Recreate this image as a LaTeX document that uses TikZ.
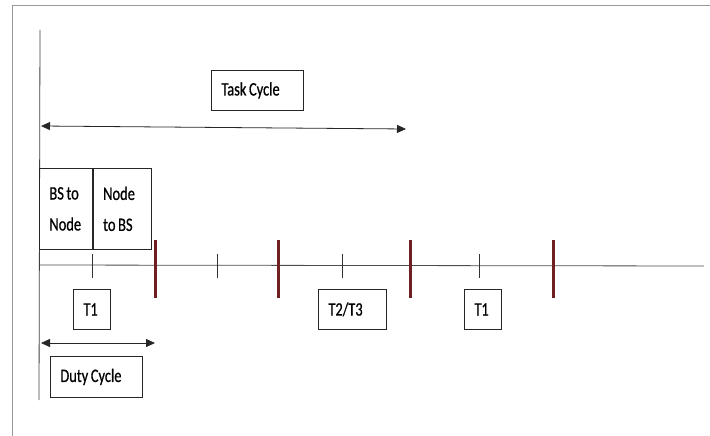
\documentclass[tikz,border=0pt]{standalone}
\usepackage{fontspec}
\setmainfont{Carlito}[FakeStretch=0.76, FakeBold=0.6]
\usetikzlibrary{arrows.meta}

\newcommand\gap{\kern2.6pt\relax}
\tikzset{
    box/.style={draw=black!85, thick, inner xsep=10pt, inner ysep=0pt, anchor=north west, align=left,
        font=\fontsize{19}{31}\selectfont},
    span/.style={black!85, thick, {Triangle[length=9pt,width=8pt]}-{Triangle[length=9pt,width=8pt]}},
    slot/.style={line width=3pt, draw={rgb,255:red,112;green,32;blue,32}}
}

\begin{document}
\begin{tikzpicture}[x=1pt, y=-1pt]
    \useasboundingbox (0,0) rectangle (710,436);
    \draw[black!40] (12,436) -- (12,5) -- (710,5);
    % axes
    \coordinate (O) at (40,265); \coordinate (top) at (40,30); \coordinate (bot) at (39,400);
    \coordinate (end) at (704,266);
    \draw[black!75, thick] (top) -- (bot);
    \draw[black!70, thick] (O) -- (end);
    % cycles
    \node[box, minimum height=40pt, text width=72pt] (task) at (211,70) {Task\gap Cycle};
    \coordinate (taskL) at (41,126); \coordinate (taskR) at (406,129);
    \draw[span] (taskL) -- (taskR);
    \node[box, minimum height=81pt, text width=33pt] (bs2node) at (39,168) {BS\gap to\\Node};
    \node[box, minimum height=81pt, text width=38pt] (node2bs) at (bs2node.north east) {Node\\to\gap BS};
    % slots
    \foreach \x in {92,217,342,479} {\draw[black!80] (\x,254) coordinate (tick\x) -- (\x,278);}
    \foreach \x in {155,278,410,553} {\draw[slot] (\x,240) coordinate (cut\x) -- (\x,298);}
    \node[box, minimum height=40pt, text width=17pt] (t1a) at (73,289) {T1};
    \node[box, minimum height=40pt, text width=48pt] (t23) at (318,289) {T2/T3};
    \node[box, minimum height=40pt, text width=17pt] (t1b) at (464,289) {T1};
    \coordinate (dutyL) at (41,343); \coordinate (dutyR) at (155,343);
    \draw[span] (dutyL) -- (dutyR);
    \node[box, minimum height=41pt, text width=72pt] (duty) at (50,356) {Duty\gap Cycle};
\end{tikzpicture}
\end{document}
